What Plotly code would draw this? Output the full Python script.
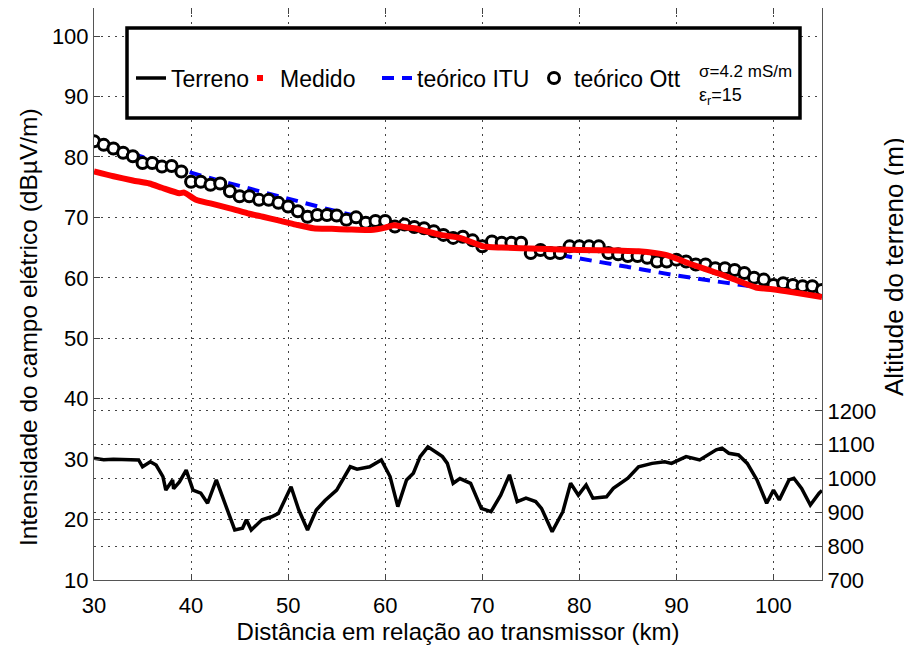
import plotly.graph_objects as go

# ---------------- data ----------------
terrain_km = [30.0, 31.0, 32.0, 33.3, 34.6, 35.0, 35.8, 36.4, 37.1, 37.4, 38.1, 38.2, 38.8, 39.5,
              40.2, 41.0, 41.7, 42.6, 43.6, 44.5, 45.3, 45.7, 46.2, 47.3, 48.3, 49.0, 50.3, 51.1,
              52.0, 52.9, 53.8, 55.0, 56.4, 57.1, 58.4, 59.6, 60.5, 61.3, 62.2, 62.9, 63.6, 64.4,
              65.4, 65.9, 66.4, 67.0, 67.7, 68.8, 69.9, 70.9, 71.9, 72.8, 73.6, 74.5, 75.5, 76.1,
              77.2, 78.3, 79.1, 79.9, 80.7, 81.4, 82.8, 83.5, 85.0, 86.1, 87.5, 88.8, 89.5, 91.0,
              92.4, 94.1, 94.7, 95.4, 96.4, 97.3, 98.3, 99.3, 100.0, 100.6, 101.6, 102.1, 102.9,
              103.8, 104.7, 105.0]
terrain_alt = [1060, 1056, 1057, 1057, 1055, 1035, 1050, 1040, 1006, 966, 996, 970, 990, 1025,
               966, 957, 927, 996, 917, 848, 853, 878, 848, 878, 887, 897, 976, 907,
               848, 907, 935, 966, 1035, 1028, 1035, 1055, 1006, 917, 996, 1016, 1065, 1094,
               1075, 1065, 1045, 986, 1000, 986, 912, 902, 951, 1011, 932, 942, 932, 912,
               843, 902, 986, 951, 981, 942, 946, 971, 1001, 1035, 1045, 1050, 1045, 1065,
               1055, 1085, 1090, 1075, 1070, 1045, 996, 927, 966, 937, 996, 1001, 971,
               922, 957, 965]

medido_km = [30, 32, 34, 35.7, 37, 38.8, 39.3, 40.5, 42, 44, 46, 47.4, 49, 50.8, 52.6, 54.5,
             56.1, 58.5, 60, 60.9, 62, 63, 65.7, 67.7, 70.1, 72, 75.9, 80, 84, 86.1, 88.9, 90.3,
             91.6, 94.7, 96.5, 98.2, 99.9, 102, 105]
medido_db = [77.6, 76.8, 76.1, 75.6, 74.9, 74.0, 74.1, 72.9, 72.3, 71.5, 70.6, 70.1, 69.5, 68.8,
             68.2, 68.1, 68.0, 67.9, 68.3, 68.7, 68.4, 68.2, 67.1, 66.6, 65.2, 65.0, 64.8, 64.6,
             64.5, 64.4, 63.8, 63.0, 62.2, 60.5, 59.4, 58.4, 58.1, 57.6, 56.8]

itu_km = [30, 35, 40, 45, 50, 55, 60, 65, 70, 75, 80, 85, 90, 95, 100, 105]
itu_db = [82.3, 80.0, 77.4, 75.2, 73.1, 71.0, 69.1, 67.3, 65.8, 64.6, 63.2, 61.8, 60.4, 59.2, 58.1, 57.0]

ott_km = list(range(30, 106))
ott_db = [82.6, 82.0, 81.4, 80.7, 80.1, 79.0, 79.0, 78.4, 78.5, 77.6,
          75.9, 75.9, 75.4, 75.6, 74.3, 73.5, 73.5, 72.9, 72.9, 72.4,
          71.8, 71.0, 70.1, 70.4, 70.4, 70.3, 69.6, 70.0, 69.1, 69.4,
          69.4, 68.5, 68.8, 68.4, 68.2, 67.7, 67.1, 66.6, 66.8, 66.2,
          65.2, 66.0, 65.8, 65.8, 65.8, 64.1, 64.6, 64.1, 64.1, 65.2,
          65.2, 65.2, 65.2, 64.1, 63.9, 63.6, 63.6, 63.3, 62.7, 62.7,
          63.0, 62.7, 62.2, 62.2, 61.6, 61.6, 61.3, 60.8, 60.0, 59.7,
          58.8, 59.1, 58.8, 58.6, 58.6, 58.0]

x_ticks = [30, 40, 50, 60, 70, 80, 90, 100]
y_ticks = [10, 20, 30, 40, 50, 60, 70, 80, 90, 100]
y2_ticks = [700, 800, 900, 1000, 1100, 1200]

FONT = "Liberation Sans, Arial, sans-serif"

# page-pixel -> paper helpers (plot area spans page x 94..822, y 8..580)
def px(x):
    return (x - 94) / 728

def py(y):
    return (580 - y) / 572

fig = go.Figure()

fig.add_trace(go.Scatter(x=terrain_km, y=terrain_alt, yaxis="y2", mode="lines",
                         line=dict(color="black", width=3.5), name="Terreno",
                         legend="legend"))
fig.add_trace(go.Scatter(x=itu_km, y=itu_db, mode="lines",
                         line=dict(color="#0000ff", width=4, dash="12px,8px", shape="spline"),
                         name="teórico ITU", legend="legend3"))
fig.add_trace(go.Scatter(x=ott_km, y=ott_db, mode="markers",
                         marker=dict(symbol="circle", size=11, color="white",
                                     line=dict(color="black", width=3)),
                         name="teórico Ott", legend="legend4"))
fig.add_trace(go.Scatter(x=medido_km, y=medido_db, mode="lines",
                         line=dict(color="#ff0000", width=6, shape="spline", smoothing=0.6),
                         name="Medido", showlegend=False))
fig.add_trace(go.Scatter(x=[None], y=[None], mode="markers",
                         marker=dict(color="#ff0000", size=6, symbol="square"),
                         name="Medido", legend="legend2"))

grid = dict(showgrid=True, gridcolor="#444444", griddash="2px,5px", gridwidth=1)
leg_common = dict(orientation="h", yanchor="middle", xanchor="left",
                  bgcolor="rgba(0,0,0,0)", borderwidth=0, font=dict(size=23), itemwidth=30)

fig.update_layout(
    width=904, height=639,
    margin=dict(l=86, r=90, t=0, b=67),
    paper_bgcolor="white", plot_bgcolor="white",
    font=dict(family=FONT, size=22, color="black"),
    showlegend=True,
    legend=dict(x=px(131), y=py(78), **leg_common),
    legend2=dict(x=px(240), y=py(78), **leg_common),
    legend3=dict(x=px(377), y=py(78), **leg_common),
    legend4=dict(x=px(534), y=py(78), **leg_common),
    xaxis=dict(range=[30, 105], tickvals=x_ticks, ticks="inside", ticklen=6,
               showline=True, linecolor="#555555", linewidth=1, mirror="ticks",
               zeroline=False, ticklabelstandoff=6,
               title=dict(text="Distância em relação ao transmissor (km)",
                          font=dict(size=24), standoff=2),
               **grid),
    yaxis=dict(range=[10, 104.64], tickvals=y_ticks, ticks="inside", ticklen=6,
               showline=True, linecolor="#555555", linewidth=1, zeroline=False, **grid),
    yaxis2=dict(range=[700, 2392], tickvals=y2_ticks, ticks="inside", ticklen=6,
                overlaying="y", side="right", showline=True, linecolor="#555555", linewidth=1,
                zeroline=False, **grid),
    shapes=[dict(type="rect", xref="paper", yref="paper",
                 x0=px(127), x1=px(800), y0=py(118), y1=py(28),
                 line=dict(color="black", width=3.5), fillcolor="white", layer="above")],
    annotations=[
        dict(text="Intensidade do campo elétrico (dBµV/m)", xref="paper", yref="paper",
             x=px(28), y=py(327), textangle=-90, showarrow=False,
             font=dict(size=24.5), xanchor="center", yanchor="middle"),
        dict(text="Altitude do terreno (m)", xref="paper", yref="paper",
             x=px(894), y=py(267), textangle=-90, showarrow=False,
             font=dict(size=26), xanchor="center", yanchor="middle"),
        dict(text="σ=4.2 mS/m", xref="paper", yref="paper",
             x=px(697), y=py(72), showarrow=False,
             font=dict(size=17), xanchor="left", yanchor="middle"),
        dict(text="ε<sub>r</sub>=15", xref="paper", yref="paper",
             x=px(697), y=py(96), showarrow=False,
             font=dict(size=18), xanchor="left", yanchor="middle"),
    ],
)

fig.write_html("out.html")
